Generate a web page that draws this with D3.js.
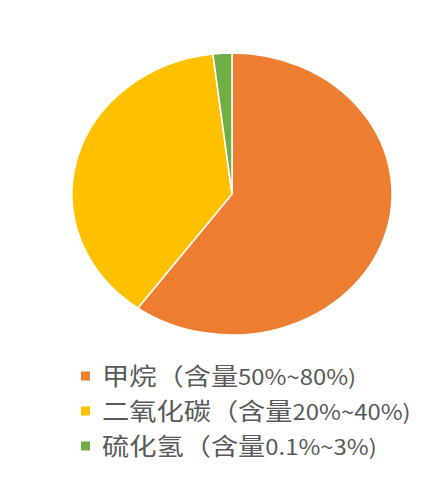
<!DOCTYPE html>
<html>
<head>
<meta charset="utf-8">
<script src="https://cdn.jsdelivr.net/npm/d3@7.9.0/dist/d3.min.js"></script>
<style>
  html, body { margin: 0; padding: 0; background: #fff; }
  svg { display: block; }
</style>
</head>
<body>
<svg id="chart" width="440" height="486"></svg>
<script>
// gas names, share used for the slices, content ranges for the legend
const gases = ['甲烷', '二氧化碳', '硫化氢'];
const shares = [60, 38.1, 1.9];
const ranges = ['50%~80%', '20%~40%', '0.1%~3%'];
const colors = ['#ED7D31', '#FFC000', '#70AD47'];

const svg = d3.select('#chart');

// the original picture is stretched sideways a bit
const stretch = 1.135;
const cx = 232, cy = 194;
const ry = 141;

let pie = d3.pie().sort(null).value((d) => d);
let arcGenerator = d3.arc().innerRadius(0).outerRadius(ry);
let color = d3.scaleOrdinal().domain(gases).range(colors);

let pieGroup = svg.append('g')
  .attr('transform', `translate(${cx},${cy}) scale(${stretch},1)`);

pieGroup.selectAll('path')
  .data(pie(shares))
  .join('path')
  .attr('d', arcGenerator)
  .attr('fill', (d, i) => color(gases[i]))
  .attr('stroke', '#fff')
  .attr('stroke-width', 1.5)
  .attr('vector-effect', 'non-scaling-stroke');

// legend
let y = d3.scalePoint().domain(gases).range([376, 446]);

let rows = svg.append('g').selectAll('g')
  .data(gases)
  .join('g')
  .attr('transform', (d) => `translate(81,${y(d)})`);

rows.append('rect')
  .attr('x', 0)
  .attr('y', -4.5)
  .attr('width', 9)
  .attr('height', 9)
  .attr('fill', (d) => color(d));

let label = rows.append('text')
  .attr('transform', `translate(21,0) scale(${stretch},1)`)
  .attr('dy', '0.38em')
  .attr('font-family', '"Noto Sans CJK SC", "Noto Sans", sans-serif')
  .attr('font-size', 24)
  .attr('fill', '#595959');

label.append('tspan').text((d) => d + '（含量');
label.append('tspan').attr('font-size', 21).text((d, i) => ranges[i] + ')');
</script>
</body>
</html>
